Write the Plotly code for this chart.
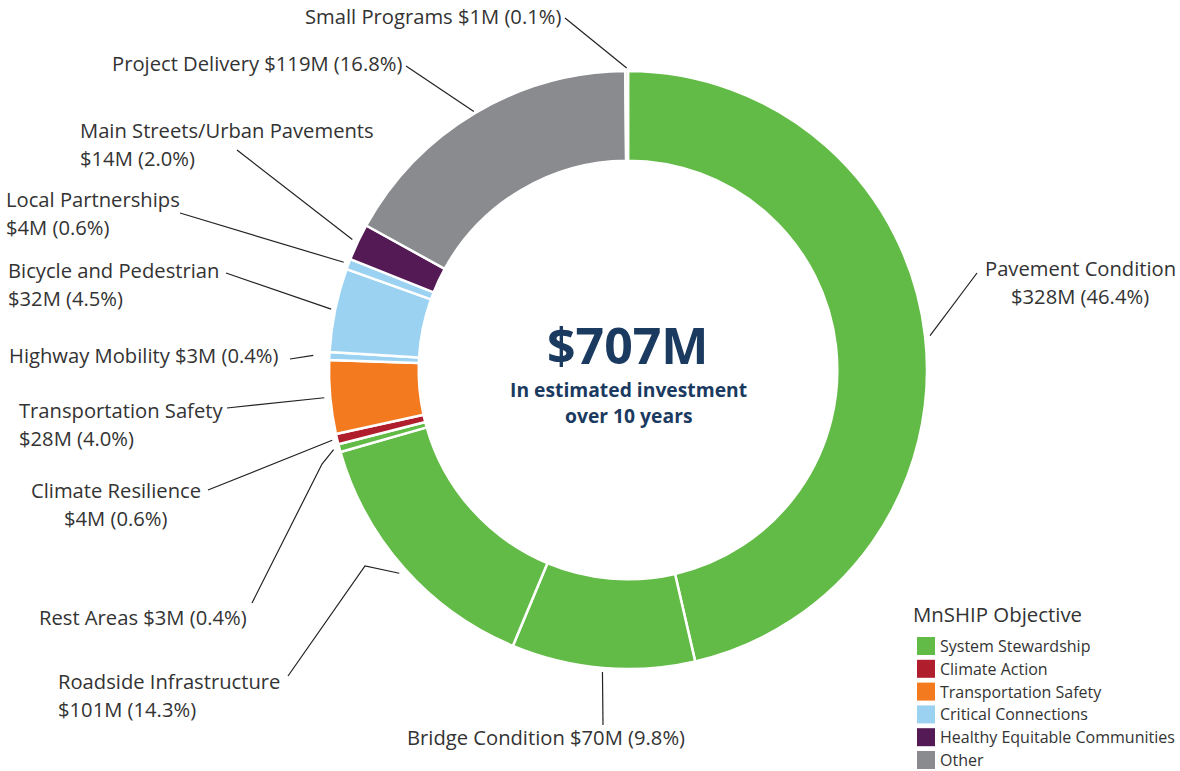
import math
import plotly.graph_objects as go

W, H = 1180, 771

# ---------------- data ----------------
programs = ["Pavement Condition", "Bridge Condition", "Roadside Infrastructure", "Rest Areas",
            "Climate Resilience", "Transportation Safety", "Highway Mobility",
            "Bicycle and Pedestrian", "Local Partnerships", "Main Streets/Urban Pavements",
            "Project Delivery", "Small Programs"]
amounts = [328, 70, 101, 3, 4, 28, 3, 32, 4, 14, 119, 1]          # $M
shares = [46.4, 9.8, 14.3, 0.4, 0.6, 4.0, 0.4, 4.5, 0.6, 2.0, 16.8, 0.1]  # %
program_objective = ["System Stewardship", "System Stewardship", "System Stewardship",
                     "System Stewardship", "Climate Action", "Transportation Safety",
                     "Critical Connections", "Critical Connections", "Critical Connections",
                     "Healthy Equitable Communities", "Other", "Other"]
objectives = ["System Stewardship", "Climate Action", "Transportation Safety",
              "Critical Connections", "Healthy Equitable Communities", "Other"]
objective_colors = ["#62BB46", "#B01E2D", "#F47A20", "#9BD2F2", "#541A55", "#898B8E"]
legend_title = "MnSHIP Objective"
center_lines = ["In estimated investment", "over 10 years"]

# ---------------- layout helpers ----------------
TEXT = "#333333"
NAVY = "#1B3A60"
FONT = "Open Sans"
CX, CY, R = 628, 370, 299  # pie centre / radius in px


def px(x):
    return x / W


def py(y):
    return 1 - y / H


color_of = dict(zip(objectives, objective_colors))
slice_colors = [color_of[o] for o in program_objective]

fig = go.Figure()
fig.add_trace(go.Pie(
    labels=programs, values=amounts, sort=False, direction="clockwise", rotation=0,
    hole=0.70, textinfo="none", hoverinfo="label+value+percent",
    marker=dict(colors=slice_colors, line=dict(color="white", width=2.5)),
    domain=dict(x=[px(CX - R), px(CX + R)], y=[py(CY + R), py(CY - R)]),
    showlegend=False,
))

# label placement: (two_line, x, y_first_line, anchor, label_end, elbow, line_radius)
label_layout = {
    "Pavement Condition": (True, 1080, 268, "center", (977, 273), None, 304),
    "Bridge Condition": (False, 405, 737, "left", (603, 725), None, 303),
    "Roadside Infrastructure": (True, 56, 681, "left", (288, 676), (365, 566), 306),
    "Rest Areas": (False, 37, 617, "left", (252, 603), (322, 464), 305),
    "Climate Resilience": (True, 116, 490, "center", (208, 490), None, 304),
    "Transportation Safety": (True, 17, 410, "left", (227, 408), None, 305),
    "Highway Mobility": (False, 7, 355, "left", (290, 359), None, 315),
    "Bicycle and Pedestrian": (True, 6, 270, "left", (226, 273), None, 303),
    "Local Partnerships": (True, 4, 199, "left", (180, 213), None, 304),
    "Main Streets/Urban Pavements": (True, 78, 130, "left", (237, 150), None, 305),
    "Project Delivery": (False, 404, 63, "right", (406, 66), None, 301),
    "Small Programs": (False, 563, 16, "right", (565, 18), None, 302),
}
LINE_GAP = 28
LABEL_SIZE = 20.2

total = sum(amounts)
cum = 0
annotations = []
shapes = []
for name, amt, pct in zip(programs, amounts, shares):
    mid = (cum + amt / 2) / total * 2 * math.pi
    cum += amt
    two, x, y, anchor, end, elbow, rl = label_layout[name]
    value_txt = f"${amt}M ({pct:.1f}%)"
    lines = [name, value_txt] if two else [f"{name} {value_txt}"]
    for i, t in enumerate(lines):
        annotations.append(dict(
            text=t, x=px(x), y=py(y + i * LINE_GAP), xref="paper", yref="paper",
            xanchor=anchor, yanchor="middle", showarrow=False,
            font=dict(family=FONT, size=LABEL_SIZE, color=TEXT)))
    # leader line from slice to label
    sx = CX + rl * math.sin(mid)
    sy = CY - rl * math.cos(mid)
    pts = [(sx, sy)]
    if elbow:
        pts.append(elbow)
    pts.append(end)
    path = "M " + " L ".join(f"{px(a):.5f},{py(b):.5f}" for a, b in pts)
    shapes.append(dict(type="path", path=path, xref="paper", yref="paper",
                       line=dict(color="#222222", width=1.2)))

# centre text
annotations.append(dict(text=f"<b>${total}M</b>", x=px(CX), y=py(345), xref="paper", yref="paper",
                        xanchor="center", yanchor="middle", showarrow=False, height=52,
                        font=dict(family=FONT, size=50, color=NAVY)))
for i, t in enumerate(center_lines):
    annotations.append(dict(text=f"<b>{t}</b>", x=px(CX), y=py(389 + i * 26), xref="paper",
                            yref="paper", xanchor="center", yanchor="middle", showarrow=False,
                            font=dict(family=FONT, size=19.3, color=NAVY)))

# legend
annotations.append(dict(text=legend_title, x=px(911), y=py(614), xref="paper", yref="paper",
                        xanchor="left", yanchor="middle", showarrow=False,
                        font=dict(family=FONT, size=20.4, color=TEXT)))
for i, (obj, col) in enumerate(zip(objectives, objective_colors)):
    yc = 646 + i * 22.8
    shapes.append(dict(type="rect", xref="paper", yref="paper",
                       x0=px(917), x1=px(935), y0=py(yc - 9), y1=py(yc + 9),
                       fillcolor=col, line=dict(width=0)))
    annotations.append(dict(text=obj, x=px(939), y=py(yc), xref="paper", yref="paper",
                            xanchor="left", yanchor="middle", showarrow=False, borderpad=0,
                            font=dict(family=FONT, size=16, color=TEXT)))

fig.update_layout(
    width=W, height=H, margin=dict(l=0, r=0, t=0, b=0),
    paper_bgcolor="white", plot_bgcolor="white",
    annotations=annotations, shapes=shapes, showlegend=False,
)
fig.write_html("out.html", config={"displayModeBar": False},
               post_script="document.body.style.margin='0';document.body.style.overflow='hidden';")
